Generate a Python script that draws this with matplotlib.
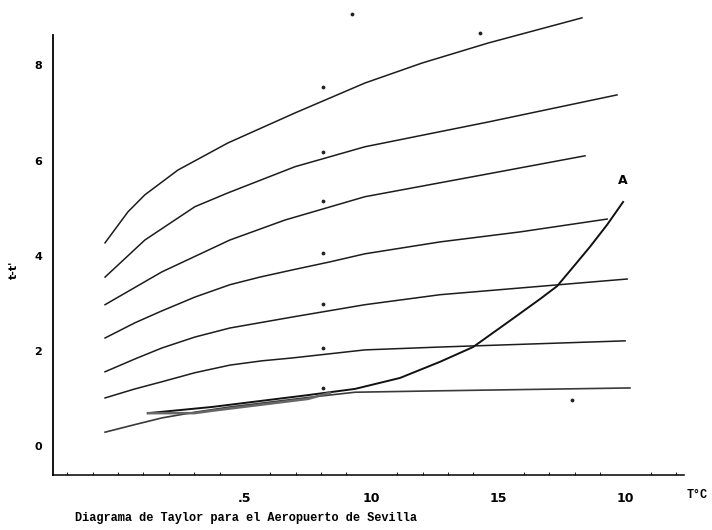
import matplotlib.pyplot as plt
from matplotlib.ticker import MultipleLocator

# curvas de la familia (T en grados C, ordenada en unidades del eje)
c1_t = [-0.51, 0.39, 1.06, 2.36, 4.33, 6.97, 9.73, 11.98, 14.58, 18.28]
c1_y = [4.27, 4.92, 5.28, 5.80, 6.37, 7.00, 7.63, 8.05, 8.47, 9.00]
c2_t = [-0.51, 1.06, 3.03, 4.33, 6.97, 9.73, 14.58, 19.66]
c2_y = [3.55, 4.33, 5.03, 5.32, 5.87, 6.29, 6.81, 7.38]
c3_t = [-0.51, 1.73, 4.41, 6.58, 9.73, 14.58, 18.40]
c3_y = [2.97, 3.66, 4.33, 4.75, 5.24, 5.72, 6.10]
c4_t = [-0.51, 0.67, 1.73, 3.03, 4.41, 5.59, 6.86, 8.35, 9.73, 12.69, 15.84, 19.27]
c4_y = [2.27, 2.59, 2.84, 3.13, 3.39, 3.55, 3.70, 3.87, 4.04, 4.29, 4.50, 4.77]
c5_t = [-0.51, 0.67, 1.73, 3.03, 4.41, 6.86, 9.73, 12.69, 20.06]
c5_y = [1.56, 1.83, 2.06, 2.29, 2.48, 2.71, 2.97, 3.18, 3.51]
c6_t = [-0.51, 0.67, 1.73, 3.03, 4.41, 5.67, 6.86, 9.73, 12.69, 19.98]
c6_y = [1.01, 1.20, 1.35, 1.54, 1.70, 1.79, 1.85, 2.02, 2.08, 2.21]
c7_t = [-0.51, 0.67, 1.73, 3.03, 4.41, 7.49, 9.34, 12.69, 20.17]
c7_y = [0.29, 0.45, 0.59, 0.71, 0.82, 1.02, 1.13, 1.16, 1.22]

# curva A
a_t = [1.18, 3.70, 7.49, 9.34, 11.11, 12.69, 13.99, 15.33, 16.63, 17.30, 17.93, 18.60, 19.27, 19.90]
a_y = [0.69, 0.82, 1.07, 1.20, 1.43, 1.77, 2.08, 2.59, 3.09, 3.36, 3.76, 4.19, 4.65, 5.13]
# trazo doble al inicio de A
loop_t = [1.18, 3.0, 3.70, 7.49, 8.35]
loop_y = [0.69, 0.69, 0.74, 0.99, 1.12]

# puntos sueltos
dot_t = [8.08, 8.08, 8.08, 8.08, 8.08, 8.08, 8.08, 9.22, 14.26, 17.89]
dot_y = [7.55, 6.18, 5.15, 4.06, 2.99, 2.06, 1.22, 9.08, 8.69, 0.97]

xticks = [5, 10, 15, 20]
xticklabels = [".5", "10", "15", "10"]
yticks = [0, 2, 4, 6, 8]

fig = plt.figure(figsize=(7.12, 5.30), dpi=100)
ax = fig.add_axes([53 / 712, 55 / 530, 647 / 712, 470 / 530])
ax.set_xlim(-2.56, 22.93)
ax.set_ylim(-0.61, 9.27)

curves = [(c1_t, c1_y), (c2_t, c2_y), (c3_t, c3_y), (c4_t, c4_y),
          (c5_t, c5_y), (c6_t, c6_y)]
for t, y in curves:
    ax.plot(t, y, color='#1c1c1c', lw=1.1, solid_joinstyle='round')
ax.plot(c7_t, c7_y, color='#3a3a3a', lw=1.2, solid_joinstyle='round')
ax.plot(a_t, a_y, color='#111111', lw=1.4, solid_joinstyle='round')
ax.plot(loop_t, loop_y, color='#666666', lw=1.8)
ax.scatter(dot_t, dot_y, s=3, color='#222222', zorder=5)

ax.text(19.9, 5.45, "A", fontsize=9, fontweight='bold', ha='center', va='bottom')

for s in ['top', 'right']:
    ax.spines[s].set_visible(False)
ax.spines['left'].set_bounds(-0.61, 8.64)
ax.spines['bottom'].set_bounds(-2.56, 22.3)
ax.spines['left'].set_linewidth(1.3)
ax.spines['bottom'].set_linewidth(1.1)

ax.set_xticks(xticks)
ax.set_xticklabels(xticklabels, fontsize=9, fontweight='bold')
ax.xaxis.set_minor_locator(MultipleLocator(1))
ax.tick_params(axis='x', which='major', length=0, pad=12)
ax.tick_params(axis='x', which='minor', length=2.5, direction='in')
ax.set_yticks(yticks)
ax.set_yticklabels([str(v) for v in yticks], fontsize=8, fontweight='bold')
ax.tick_params(axis='y', length=0, pad=8)

fig.text(697 / 712, 1 - 495 / 530, "T°C", fontsize=8.5, fontweight='bold',
         family='Liberation Mono', ha='center', va='center')
fig.text(14 / 712, 1 - 270 / 530, "t-t'", fontsize=8, fontweight='bold',
         rotation=90, ha='center', va='center')
fig.text(75 / 712, 1 - 518 / 530, "Diagrama de Taylor para el Aeropuerto de Sevilla",
         fontsize=8.6, fontweight='bold', family='Liberation Mono',
         ha='left', va='center')

fig.savefig("out.png", dpi=100)
